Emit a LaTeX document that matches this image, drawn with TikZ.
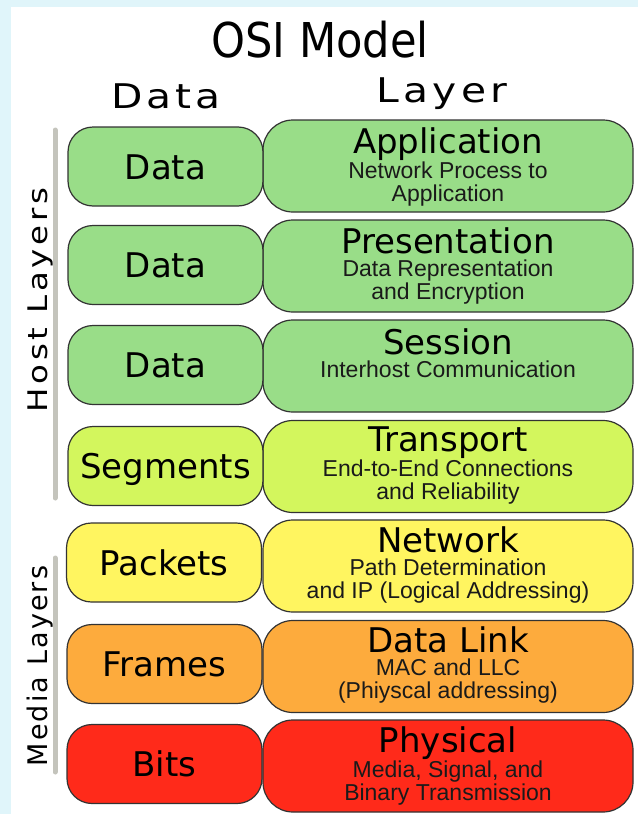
\documentclass[tikz,border=0pt]{standalone}
\usepackage{fontspec}
\setmainfont{DejaVu Sans}
\newfontfamily\condfont{DejaVu Sans Condensed}
\newfontfamily\subfont{Liberation Sans}
\newfontfamily\spacedfont[FakeStretch=1.2, LetterSpace=12]{DejaVu Sans}
\newfontfamily\hostfont[FakeStretch=1.2, LetterSpace=14]{DejaVu Sans}
\newfontfamily\mediafont[LetterSpace=8]{DejaVu Sans}
\newcommand\subtext{\subfont\fontsize{23}{23}\selectfont\color{subink}}
\usetikzlibrary{positioning}
\definecolor{backdrop}{HTML}{E0F5FA}
\definecolor{hostgreen}{HTML}{99DD88}
\definecolor{transportlime}{HTML}{D3F65D}
\definecolor{networkyellow}{HTML}{FFF560}
\definecolor{linkorange}{HTML}{FDAB3D}
\definecolor{physred}{HTML}{FF2A1A}
\definecolor{boxline}{HTML}{333333}
\definecolor{barline}{HTML}{C4C4BC}
\definecolor{subink}{HTML}{1A1A1A}
\begin{document}
\begin{tikzpicture}%
	[x={(1pt,0pt)},
	y={(0pt,-1pt)},
	unit/.style={draw=boxline, line width=1.2pt, rounded corners=25pt, minimum width=195pt, minimum height=79pt, inner sep=0pt, text height=25pt, text depth=0pt, font=\fontsize{34}{34}\selectfont},
	layer/.style={draw=boxline, line width=1.2pt, rounded corners=30pt, minimum width=370pt, minimum height=92pt, inner sep=0pt},
	layertext/.style={inner sep=0pt, align=center, font=\fontsize{34}{23}\selectfont},
	heading/.style={font=\spacedfont\fontsize{34}{34}\selectfont, anchor=base, inner sep=0pt},
	side/.style={rotate=90, inner sep=0pt},
	bar/.style={draw=barline, line width=5pt, line cap=round}]
%
%% Page and backdrop
%%
\useasboundingbox (0,0) rectangle (638,814);
\fill[white] (0,0) rectangle (638,814);
\fill[backdrop] (0,0) rectangle (638,7);
\fill[backdrop] (0,0) rectangle (11,814);
%%
%% Title and column headings
%%
\node[font=\condfont\fontsize{48}{48}\selectfont, anchor=base, inner sep=0pt] (title) at (320,57) {OSI Model};
\node[heading] (datahead) at (166,108) {Data};
\node[heading] (layerhead) at (442,102) {Layer};
%%
%% Side bars and their labels
%%
\draw[bar] (55,130) -- (55,498);
\draw[bar] (55,558) -- (55,772);
\node[side, font=\hostfont\fontsize{27}{27}\selectfont] (host) at (40,300) {Host Layers};
\node[side, font=\mediafont\fontsize{27}{27}\selectfont] (media) at (40,666) {Media Layers};
%%
%% Layer boxes
%%
\node[layer, fill=hostgreen] (lapp) at (448,166) {};
\node[layer, fill=hostgreen] (lpres) at (448,266) {};
\node[layer, fill=hostgreen] (lsess) at (448,366) {};
\node[layer, fill=transportlime] (ltrans) at (448,466.5) {};
\node[layer, fill=networkyellow] (lnet) at (448,566) {};
\node[layer, fill=linkorange] (llink) at (448,666.5) {};
\node[layer, fill=physred] (lphys) at (448,766) {};
%%
%% Layer texts
%%
\node[layertext, below=8pt of lapp.north] (tapp) {Application\\\subtext Network Process to\\\subtext Application};
\node[layertext, below=8pt of lpres.north] (tpres) {Presentation\\\subtext Data Representation\\\subtext and Encryption};
\node[layertext, below=9pt of lsess.north] (tsess) {Session\\\subtext Interhost Communication};
\node[layertext, below=7pt of ltrans.north] (ttrans) {Transport\\\subtext End-to-End Connections\\\subtext and Reliability};
\node[layertext, below=7pt of lnet.north] (tnet) {Network\\\subtext Path Determination\\\subtext and IP (Logical Addressing)};
\node[layertext, below=7pt of llink.north] (tlink) {Data Link\\\subtext MAC and LLC\\\subtext (Phiyscal addressing)};
\node[layertext, below=7pt of lphys.north] (tphys) {Physical\\\subtext Media, Signal, and\\\subtext Binary Transmission};
%%
%% Data unit boxes
%%
\node[unit, fill=hostgreen] (uapp) at (165.5,166.5) {Data};
\node[unit, fill=hostgreen] (upres) at (165.5,265) {Data};
\node[unit, fill=hostgreen] (usess) at (165.5,365) {Data};
\node[unit, fill=transportlime] (utrans) at (165.5,466) {Segments};
\node[unit, fill=networkyellow] (unet) at (164,562.5) {Packets};
\node[unit, fill=linkorange] (ulink) at (164.5,664) {Frames};
\node[unit, fill=physred] (uphys) at (164.5,764) {Bits};
%%
\end{tikzpicture}
\end{document}
